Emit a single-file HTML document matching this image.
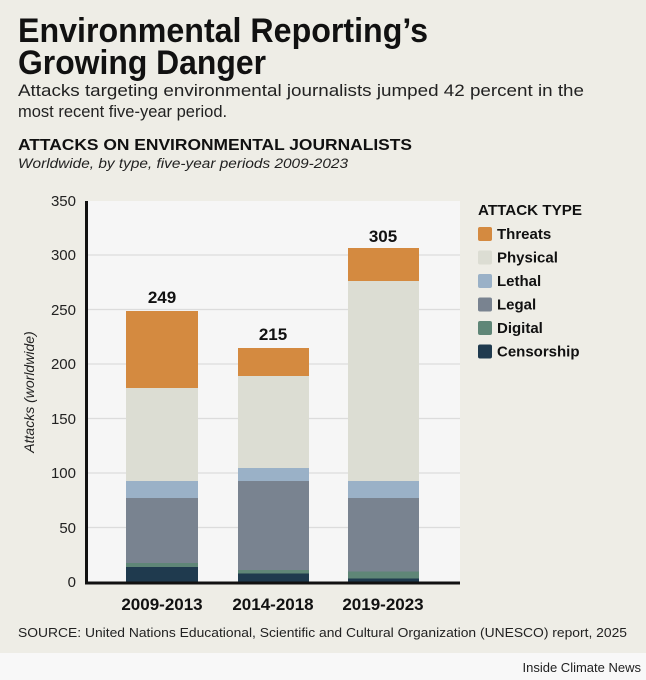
<!DOCTYPE html>
<html><head><meta charset="utf-8"><style>
html,body{margin:0;padding:0;}
body{width:646px;height:680px;background:#eeede6;position:relative;overflow:hidden;font-family:"Liberation Sans",sans-serif;}
</style></head><body>
<svg width="646" height="680" style="position:absolute;left:0;top:0" font-family="Liberation Sans, sans-serif">
<rect x="0" y="653" width="646" height="27" fill="#f8f8f8"/>
<text x="18" y="42" font-size="34" font-weight="bold" fill="#111" textLength="410" lengthAdjust="spacingAndGlyphs">Environmental Reporting’s</text>
<text x="18" y="74" font-size="34" font-weight="bold" fill="#111" textLength="248" lengthAdjust="spacingAndGlyphs">Growing Danger</text>
<text x="18" y="96" font-size="16.5" fill="#222" textLength="566" lengthAdjust="spacingAndGlyphs">Attacks targeting environmental journalists jumped 42 percent in the</text>
<text x="18" y="117" font-size="16.5" fill="#222">most recent five-year period.</text>
<text x="18" y="150" font-size="16" font-weight="bold" fill="#111" textLength="394" lengthAdjust="spacingAndGlyphs">ATTACKS ON ENVIRONMENTAL JOURNALISTS</text>
<text x="18" y="168" font-size="13.5" font-style="italic" fill="#222" textLength="330" lengthAdjust="spacingAndGlyphs">Worldwide, by type, five-year periods 2009-2023</text>
<rect x="87" y="201" width="373" height="382" fill="#f6f6f6"/>
<g stroke="#dcdcdc" stroke-width="1.2">
<line x1="87" x2="460" y1="255" y2="255"/><line x1="87" x2="460" y1="309.5" y2="309.5"/>
<line x1="87" x2="460" y1="364" y2="364"/><line x1="87" x2="460" y1="418.5" y2="418.5"/>
<line x1="87" x2="460" y1="473" y2="473"/><line x1="87" x2="460" y1="527.5" y2="527.5"/>
</g>
<g font-size="15" fill="#222" text-anchor="end">
<text x="76" y="206">350</text><text x="76" y="260">300</text><text x="76" y="315">250</text>
<text x="76" y="369">200</text><text x="76" y="424">150</text><text x="76" y="478">100</text>
<text x="76" y="533">50</text><text x="76" y="587">0</text>
</g>
<text transform="translate(34,392) rotate(-90)" font-size="14" font-style="italic" fill="#222" text-anchor="middle">Attacks (worldwide)</text>
<rect x="126" y="311" width="72" height="77" fill="#d48a40"/>
<rect x="126" y="388" width="72" height="93" fill="#dcddd3"/>
<rect x="126" y="481" width="72" height="17" fill="#9ab1c7"/>
<rect x="126" y="498" width="72" height="65" fill="#798390"/>
<rect x="126" y="563" width="72" height="4" fill="#5f8677"/>
<rect x="126" y="567" width="72" height="16" fill="#1f3a4e"/>
<rect x="238" y="348" width="71" height="28" fill="#d48a40"/>
<rect x="238" y="376" width="71" height="92" fill="#dcddd3"/>
<rect x="238" y="468" width="71" height="13" fill="#9ab1c7"/>
<rect x="238" y="481" width="71" height="89" fill="#798390"/>
<rect x="238" y="570" width="71" height="3.5" fill="#5f8677"/>
<rect x="238" y="573.5" width="71" height="9.5" fill="#1f3a4e"/>
<rect x="348" y="248" width="71" height="33" fill="#d48a40"/>
<rect x="348" y="281" width="71" height="200" fill="#dcddd3"/>
<rect x="348" y="481" width="71" height="17" fill="#9ab1c7"/>
<rect x="348" y="498" width="71" height="73.5" fill="#798390"/>
<rect x="348" y="571.5" width="71" height="7" fill="#5f8677"/>
<rect x="348" y="578.5" width="71" height="4.5" fill="#1f3a4e"/>
<line x1="86.5" y1="201" x2="86.5" y2="584" stroke="#111" stroke-width="3"/>
<line x1="85" y1="583" x2="460" y2="583" stroke="#111" stroke-width="3"/>
<g font-size="17" font-weight="bold" fill="#111" text-anchor="middle">
<text x="162" y="303">249</text><text x="273" y="340">215</text><text x="383" y="242">305</text>
<text x="162" y="610">2009-2013</text><text x="273" y="610">2014-2018</text><text x="383" y="610">2019-2023</text>
</g>
<text x="478" y="215" font-size="15" font-weight="bold" fill="#111" textLength="104" lengthAdjust="spacingAndGlyphs">ATTACK TYPE</text>
<g font-size="15" font-weight="bold" fill="#111">
<rect x="478" y="227" width="14" height="14" rx="2" fill="#d48a40"/><text x="497" y="239">Threats</text>
<rect x="478" y="250.5" width="14" height="14" rx="2" fill="#dcddd3"/><text x="497" y="262.5">Physical</text>
<rect x="478" y="274" width="14" height="14" rx="2" fill="#9ab1c7"/><text x="497" y="286">Lethal</text>
<rect x="478" y="297.5" width="14" height="14" rx="2" fill="#798390"/><text x="497" y="309.5">Legal</text>
<rect x="478" y="321" width="14" height="14" rx="2" fill="#5f8677"/><text x="497" y="333">Digital</text>
<rect x="478" y="344.5" width="14" height="14" rx="2" fill="#1f3a4e"/><text x="497" y="356.5">Censorship</text>
</g>
<text x="18" y="637" font-size="13" fill="#222" textLength="609" lengthAdjust="spacingAndGlyphs">SOURCE: United Nations Educational, Scientific and Cultural Organization (UNESCO) report, 2025</text>
<text x="641" y="672" font-size="13" fill="#222" text-anchor="end">Inside Climate News</text>
</svg>
</body></html>
